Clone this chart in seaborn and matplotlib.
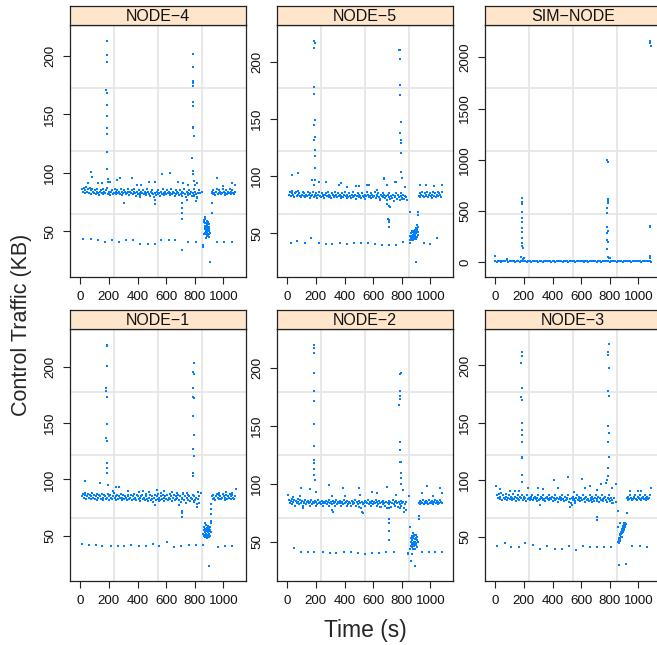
import matplotlib
matplotlib.use("Agg")
import matplotlib.pyplot as plt
import seaborn as sns
import pandas as pd

# -----------------------------------
# Data
# -----------------------------------
panels = ["NODE-4", "NODE-5", "SIM-NODE", "NODE-1", "NODE-2", "NODE-3"]
strip_labels = ["NODE\u22124", "NODE\u22125", "SIM\u2212NODE", "NODE\u22121", "NODE\u22122", "NODE\u22123"]

x_ticks = [0, 200, 400, 600, 800, 1000]
node_y_ticks = [50, 100, 150, 200]
sim_y_ticks = [0, 500, 1000, 1500, 2000]

# sampling times of the dense control-traffic band
t_band_a = list(range(12, 829, 6))     # before the outage
t_band_b = list(range(918, 1081, 6))   # after the outage
t_sim = list(range(0, 1091, 10))

# NODE-4
n4_band_a = [
    86, 84, 87, 83, 85, 88, 84, 86, 83, 87, 85, 82, 86, 84,
    83, 85, 82, 84, 86, 83, 81, 84, 85, 83, 82, 86, 84, 83,
    85, 87, 82, 84, 83, 81, 84, 85, 82, 83, 86, 84, 82, 85,
    83, 84, 82, 86, 84, 81, 83, 85, 84, 82, 83, 86, 84, 81,
    84, 83, 85, 82, 84, 86, 83, 80, 84, 82, 85, 83, 81, 84,
    83, 85, 82, 84, 81, 83, 86, 84, 82, 80, 84, 83, 85, 82,
    79, 83, 81, 84, 82, 85, 83, 80, 84, 82, 86, 83, 81, 84,
    82, 85, 83, 84, 81, 83, 86, 82, 84, 83, 80, 85, 82, 84,
    83, 81, 85, 82, 84, 80, 83, 86, 82, 79, 84, 83, 81, 85,
    82, 84, 80, 83, 86, 81, 84, 82, 79, 83, 85]
n4_band_b = [84, 82, 85, 83, 81, 84, 86, 82, 83, 85, 84, 82, 83, 86,
             84, 81, 83, 85, 82, 84, 83, 86, 82, 84, 85, 83, 82, 84]
n4_points = [
    # spikes
    (186, 213), (186, 201), (188, 201), (188, 195), (183, 171), (185, 168), (187, 158),
    (189, 149), (186, 138), (187, 133), (184, 118), (190, 103), (192, 95), (194, 92),
    (790, 202), (788, 191), (786, 179), (789, 177), (787, 174), (791, 161), (789, 157),
    (788, 139), (790, 138), (792, 132), (783, 113), (786, 102), (789, 99), (795, 93),
    # drop near 712 s
    (712, 74), (712, 70), (713, 66), (713, 61), (714, 34),
    # low line
    (18, 43.5), (73, 43.5), (124, 42.3), (171, 40.6), (223, 42.3), (272, 40.6), (320, 42.3),
    (367, 42.3), (418, 39.5), (470, 39.5), (519, 39.5), (567, 42.3), (618, 42.3), (665, 42.3),
    (755, 40.6), (807, 40.6), (858, 38), (955, 40.6), (1006, 40.6), (1059, 40.6),
    # outage cluster
    (862, 60), (866, 58), (868, 62), (870, 55), (872, 53), (874, 57), (876, 50), (878, 54),
    (880, 48), (882, 56), (884, 52), (886, 49), (888, 55), (890, 51), (892, 53), (894, 47),
    (896, 54), (898, 50), (900, 52), (902, 56), (904, 49), (868, 52), (872, 49), (876, 55),
    (880, 51), (884, 57), (888, 46), (892, 50), (896, 54), (900, 48), (874, 61), (882, 59),
    (890, 58), (898, 45), (866, 48), (880, 44), (894, 51), (860, 37), (908, 24), (917, 66),
    (917, 74), (920, 83),
    # scatter around the band
    (77, 101), (83, 96.5), (55, 91.6), (124, 91), (155, 91.6), (207, 92.4), (254, 94),
    (277, 95.5), (360, 95.5), (395, 89.6), (423, 89.6), (478, 92.4), (525, 92.4), (572, 98.7),
    (630, 99.6), (682, 92.4), (720, 91.6), (753, 89.6), (802, 89.6), (813, 91), (955, 95.5),
    (995, 89), (1059, 91), (1078, 89.6),
    (308, 74.2), (520, 73.4), (525, 77), (418, 79.5), (807, 75.6), (819, 78.5), (795, 80),
    (748, 77), (837, 83), (853, 83.5)]

# NODE-5
n5_band_a = [
    84, 86, 83, 85, 87, 84, 82, 85, 86, 83, 84, 87, 85, 83,
    82, 84, 86, 83, 85, 82, 84, 83, 86, 84, 81, 85, 83, 84,
    86, 82, 84, 83, 85, 81, 84, 86, 83, 82, 85, 84, 83, 81,
    84, 85, 83, 86, 82, 84, 83, 81, 85, 84, 82, 83, 86, 84,
    82, 85, 83, 84, 81, 83, 85, 82, 84, 86, 83, 81, 84, 82,
    85, 83, 81, 84, 82, 86, 83, 84, 80, 83, 85, 82, 84, 83,
    81, 85, 83, 82, 84, 80, 83, 86, 84, 82, 83, 81, 85, 84,
    82, 83, 86, 81, 84, 83, 85, 82, 80, 84, 83, 85, 82, 84,
    81, 83, 79, 84, 82, 85, 80, 83, 81, 84, 78, 83, 82, 85,
    80, 84, 82, 79, 83, 85, 81, 84, 80, 83, 82]
n5_band_b = [83, 85, 82, 84, 86, 83, 82, 85, 84, 83, 86, 82, 84, 85,
             83, 81, 84, 86, 83, 85, 82, 84, 86, 83, 85, 84, 82, 86]
n5_points = [
    (189, 218), (191, 216), (190, 212), (188, 178), (189, 172), (191, 149), (190, 145),
    (192, 134), (190, 132), (191, 123), (193, 118), (194, 107), (196, 97),
    (784, 210), (788, 210), (786, 202), (788, 180), (790, 171), (792, 147), (790, 138),
    (793, 132), (794, 129), (796, 120), (797, 104), (799, 98),
    (709, 62), (710, 60), (711, 56), (707, 63), (714, 74),
    (23, 41.8), (70, 43.5), (121, 41.8), (167, 46.2), (221, 41.8), (267, 41.2), (314, 41.2),
    (365, 41.8), (414, 41.2), (465, 41.8), (512, 41.8), (563, 41.8), (616, 41.2), (663, 39.8),
    (709, 39.8), (763, 39.8), (809, 42.7), (860, 41.8), (953, 41.8), (1000, 40.6), (1046, 46.2),
    (858, 48), (860, 44), (862, 46), (866, 50), (868, 45), (870, 48), (872, 52), (874, 46),
    (876, 49), (878, 44), (880, 51), (882, 47), (884, 45), (886, 50), (888, 48), (890, 53),
    (892, 46), (894, 49), (896, 51), (898, 47), (900, 55), (902, 50), (904, 57), (906, 52),
    (908, 54), (910, 49), (912, 56), (870, 44), (884, 52), (896, 45), (906, 47), (912, 51),
    (858, 69), (915, 69), (915, 66), (900, 25),
    (35, 101), (77, 102.4), (174, 96.6), (186, 92.2), (221, 95), (267, 95), (360, 92.2),
    (372, 94.3), (419, 90.8), (477, 91.4), (500, 91.4), (558, 92.2), (570, 92.2), (628, 87.9),
    (674, 98.2), (679, 97.5), (698, 92.2), (756, 95), (761, 95), (826, 90.8), (926, 92.2),
    (966, 92.2), (1024, 91.4), (1082, 92.2),
    (651, 79), (698, 76), (716, 73.5), (786, 79), (802, 80), (837, 79)]

# SIM-NODE
sim_band = [
    12, 8, 15, 10, 6, 14, 9, 11, 18, 7, 13, 10, 9, 16, 8, 12, 11, 7, 14, 10,
    9, 13, 8, 15, 11, 6, 12, 10, 14, 9, 8, 13, 11, 7, 15, 10, 12, 9, 14, 8,
    11, 13, 7, 10, 16, 9, 12, 8, 14, 11, 10, 7, 13, 9, 15, 12, 8, 11, 10, 14,
    9, 12, 7, 13, 10, 8, 15, 11, 9, 12, 14, 8, 10, 13, 7, 11, 16, 9, 12, 10,
    8, 14, 11, 9, 13, 7, 12, 10, 15, 8, 11, 9, 14, 12, 10, 8, 13, 11, 9, 15,
    10, 12, 8, 14, 11, 9, 13, 10, 12, 8]
sim_points = [
    (187, 624), (188, 591), (186, 569), (190, 494), (189, 429), (187, 396), (188, 332),
    (190, 299), (189, 234), (186, 191), (188, 159), (191, 137), (180, 55), (195, 29), (200, 40),
    (783, 998), (785, 981), (790, 615), (788, 603), (786, 576), (784, 527), (783, 478),
    (782, 347), (787, 308), (783, 283), (781, 218), (785, 201), (784, 127), (790, 49), (795, 40),
    (1083, 2162), (1083, 2136), (1085, 2113), (1081, 354), (1082, 343), (1084, 39), (1080, 60),
    (0, 60), (80, 30), (800, 45)]

# NODE-1
n1_band_a = [
    85, 87, 84, 88, 86, 83, 85, 87, 84, 86, 83, 85, 88, 84,
    86, 83, 85, 87, 82, 84, 86, 85, 83, 87, 84, 82, 86, 85,
    83, 84, 87, 85, 82, 86, 84, 83, 85, 88, 84, 82, 85, 86,
    83, 85, 84, 87, 82, 84, 86, 83, 85, 84, 82, 86, 85, 83,
    84, 86, 82, 85, 87, 83, 84, 82, 86, 85, 83, 84, 81, 85,
    86, 83, 84, 82, 85, 87, 83, 81, 84, 86, 82, 85, 83, 80,
    84, 86, 82, 85, 83, 87, 84, 82, 85, 83, 86, 81, 84, 85,
    83, 86, 82, 84, 87, 83, 85, 81, 84, 86, 82, 85, 83, 84,
    86, 82, 85, 80, 84, 83, 87, 82, 85, 79, 84, 86, 82, 85,
    81, 84, 83, 86, 80, 85, 82, 84, 78, 83, 85]
n1_band_b = [85, 83, 86, 84, 82, 85, 87, 84, 83, 86, 85, 83, 84, 87,
             85, 82, 84, 86, 83, 85, 84, 87, 83, 85, 86, 84, 83, 85]
n1_points = [
    (185, 219), (186, 218), (190, 201), (181, 181), (183, 178), (186, 173), (184, 149),
    (183, 137), (185, 134), (186, 115), (187, 110), (189, 106), (192, 95),
    (795, 203.5), (790, 195), (792, 193.5), (789, 181), (791, 173), (796, 172), (790, 156),
    (795, 139.5), (789, 127), (796, 121), (787, 106), (788, 103),
    (712, 70), (713, 67), (712, 72),
    (14, 43), (61, 42.1), (113, 42.1), (155, 40.6), (212, 40.6), (261, 40.6), (308, 40.6),
    (355, 42.1), (409, 40.6), (461, 40.6), (508, 43), (553, 40.6), (607, 45), (658, 39.7),
    (706, 40.6), (757, 42.1), (807, 42.1), (960, 39.7), (1011, 40.6), (1059, 40.6),
    (860, 52), (862, 55), (864, 50), (866, 58), (868, 53), (870, 49), (872, 56), (874, 51),
    (876, 54), (878, 60), (880, 52), (882, 48), (884, 55), (886, 57), (888, 50), (890, 53),
    (892, 56), (894, 51), (896, 54), (898, 49), (900, 57), (902, 52), (904, 55), (906, 50),
    (908, 58), (910, 53), (912, 61), (868, 61), (876, 49), (884, 51), (892, 59), (900, 50),
    (860, 42), (900, 23.5), (915, 78), (915, 73.7), (915, 69.3), (914, 63),
    (30, 98.8), (136, 97.3), (229, 90.2), (252, 93.7), (269, 93.1), (335, 89.9), (410, 89.3),
    (441, 90.2), (481, 88.6), (535, 91), (566, 88), (582, 90.2), (641, 89.3), (676, 88),
    (716, 88), (748, 88), (825, 89.3), (841, 88), (970, 88), (1017, 88.6), (1059, 88),
    (1089, 91.6),
    (524, 77.5), (547, 80.5), (688, 77.5), (817, 76), (829, 79), (793, 80.5)]

# NODE-2
n2_band_a = [
    86, 83, 85, 87, 82, 84, 86, 81, 85, 83, 87, 84, 82, 86,
    83, 85, 81, 84, 83, 86, 82, 84, 85, 83, 81, 84, 86, 82,
    84, 83, 85, 81, 84, 82, 86, 83, 84, 82, 85, 83, 81, 84,
    83, 85, 82, 84, 86, 81, 83, 84, 82, 85, 83, 81, 84, 86,
    82, 84, 83, 85, 81, 83, 84, 82, 86, 83, 84, 81, 85, 82,
    84, 83, 81, 85, 82, 84, 83, 86, 81, 84, 82, 80, 85, 83,
    79, 84, 82, 83, 85, 81, 84, 83, 86, 82, 84, 81, 83, 85,
    82, 84, 83, 86, 81, 84, 82, 85, 83, 80, 84, 82, 85, 83,
    81, 84, 79, 83, 85, 82, 84, 80, 83, 86, 82, 84, 81, 85,
    83, 80, 84, 82, 85, 81, 83, 84, 79, 82, 84]
n2_band_b = [83, 85, 82, 84, 83, 86, 82, 84, 83, 85, 84, 82, 86, 83,
             84, 85, 83, 82, 84, 86, 83, 85, 82, 84, 83, 86, 84, 83]
n2_points = [
    (185, 219.6), (187, 216.7), (186, 213), (189, 195.7), (188, 180), (186, 171.6),
    (187, 151.5), (185, 132.5), (188, 120), (187, 118), (189, 113), (190, 107.5), (191, 103.2),
    (793, 195.7), (791, 194.5), (789, 180), (786, 175.6), (790, 172.7), (784, 168),
    (786, 136), (787, 129), (791, 119), (797, 119), (793, 109), (795, 104.6), (797, 99.7),
    (712, 69.3), (712, 59.5), (713, 51.5), (710, 66),
    (47, 44.3), (94, 40.8), (148, 40.8), (190, 40.8), (248, 40.8), (295, 40.5), (341, 40.5),
    (393, 40.8), (444, 40.8), (491, 40.5), (540, 39.7), (591, 40.5), (643, 40.5), (692, 40.8),
    (743, 40.8), (841, 40.5), (942, 40.8), (988, 40.8), (1035, 40.8), (1082, 40.8),
    (862, 50), (864, 46), (866, 53), (868, 48), (870, 55), (872, 45), (874, 51), (876, 57),
    (878, 49), (880, 53), (882, 46), (884, 50), (886, 55), (888, 48), (890, 52), (892, 44),
    (894, 50), (896, 56), (898, 47), (900, 53), (902, 49), (904, 51), (906, 45), (908, 54),
    (910, 50), (872, 52), (880, 47), (888, 56), (896, 49), (904, 54), (876, 44), (892, 52),
    (858, 63), (870, 39), (865, 33), (893, 29), (919, 72), (919, 69.5), (845, 39), (855, 44),
    (7, 90.3), (42, 88.8), (89, 89.4), (94, 96), (159, 95.2), (201, 93.2), (288, 98.9),
    (311, 89.4), (388, 96), (404, 89.4), (498, 96), (505, 90.3), (591, 93.2), (626, 91.7),
    (696, 97.5), (762, 90.3), (808, 94.6), (848, 89.4), (942, 92.3), (977, 98), (1019, 89.4),
    (1070, 96), (1082, 91.7),
    (113, 78.8), (311, 77.3), (322, 75.9), (521, 75.9), (528, 74.5), (650, 80.2), (708, 78.8),
    (790, 78.8), (813, 75.9), (832, 77.3)]

# NODE-3
n3_band_a = [
    86, 84, 87, 83, 85, 88, 82, 86, 84, 83, 87, 85, 82, 84,
    86, 83, 85, 82, 84, 87, 83, 85, 81, 84, 86, 83, 82, 85,
    84, 86, 82, 83, 85, 84, 81, 86, 83, 84, 82, 85, 83, 86,
    82, 84, 85, 83, 81, 84, 86, 82, 83, 85, 84, 82, 86, 83,
    81, 84, 85, 83, 86, 82, 84, 83, 85, 81, 84, 82, 86, 83,
    84, 80, 83, 85, 82, 84, 86, 83, 81, 85, 82, 84, 83, 86,
    80, 83, 79, 84, 82, 85, 83, 81, 84, 86, 82, 83, 85, 81,
    84, 82, 86, 83, 80, 84, 85, 82, 83, 81, 86, 84, 82, 85,
    83, 81, 84, 86, 82, 83, 85, 80, 84, 82, 86, 83, 81, 84,
    85, 82, 80, 84, 83, 86, 81, 84, 82, 79, 84]
n3_band_b = [84, 82, 85, 83, 86, 84, 82, 83, 85, 84, 86, 83, 82, 85,
             84, 83, 86, 82, 84, 85, 83, 86, 84, 82, 85, 83, 84, 86]
n3_points = [
    (185, 211.7), (188, 208.5), (183, 202.6), (186, 180), (183, 172.8), (184, 170),
    (187, 150), (186, 143), (187, 139), (186, 133), (188, 120), (187, 118.8), (189, 104),
    (190, 97.4),
    (792, 218.8), (789, 212), (788, 209), (793, 198), (788, 178), (792, 173.4), (789, 147),
    (792, 141), (789, 133), (792, 120), (785, 110.5), (786, 103), (784, 100),
    (711, 67.5), (711, 64.7),
    (12, 42.1), (66, 44), (113, 41.2), (164, 41.2), (211, 44), (260, 42.7), (312, 39.5),
    (359, 41.8), (418, 39.5), (464, 39.5), (516, 41.8), (563, 38.6), (612, 41.8), (664, 41.2),
    (711, 41.2), (763, 41.2), (812, 41.2), (958, 41.8), (1009, 41.8), (1058, 41.2),
    (860, 45), (862, 47), (864, 44), (866, 49), (868, 46), (870, 51), (872, 48), (874, 52),
    (876, 50), (878, 54), (880, 52), (882, 55), (884, 53), (886, 57), (888, 55), (890, 58),
    (892, 56), (894, 59), (896, 57), (898, 60), (900, 58), (902, 61), (904, 59), (906, 62),
    (908, 60), (866, 44), (874, 47), (882, 50), (890, 54), (898, 56), (906, 58), (910, 61),
    (858, 58), (872, 62), (900, 62), (863, 24.6), (910, 25.8), (918, 70.5), (855, 72),
    (7, 94.7), (30, 91.8), (101, 90.3), (136, 90.3), (164, 90.3), (230, 92.9), (301, 92.9),
    (336, 91.8), (411, 99.6), (437, 92.9), (507, 102.2), (547, 88.9), (606, 100.2), (630, 92.9),
    (665, 94.7), (712, 90.8), (742, 96.3), (775, 96.8), (841, 96.3), (817, 92.9), (939, 90.3),
    (998, 90.3), (1021, 90.3), (1087, 92.9),
    (312, 78), (524, 76.3), (536, 78), (559, 79.5), (676, 80), (712, 80.9), (817, 79.5),
    (841, 80)]

# panel y ranges (free scales)
y_limits = {
    "NODE-4": (11, 226.5), "NODE-5": (12, 232), "SIM-NODE": (-143, 2315),
    "NODE-1": (10, 233.4), "NODE-2": (16, 233.4), "NODE-3": (11, 232),
}
x_limits = (-72, 1158)


def node_frame(name, band_a, band_b, points):
    t = t_band_a + t_band_b + [p[0] for p in points]
    v = band_a + band_b + [p[1] for p in points]
    return pd.DataFrame({"panel": name, "time": t, "traffic": v})


df = pd.concat([
    node_frame("NODE-4", n4_band_a, n4_band_b, n4_points),
    node_frame("NODE-5", n5_band_a, n5_band_b, n5_points),
    pd.DataFrame({"panel": "SIM-NODE",
                  "time": t_sim + [p[0] for p in sim_points],
                  "traffic": sim_band + [p[1] for p in sim_points]}),
    node_frame("NODE-1", n1_band_a, n1_band_b, n1_points),
    node_frame("NODE-2", n2_band_a, n2_band_b, n2_points),
    node_frame("NODE-3", n3_band_a, n3_band_b, n3_points),
], ignore_index=True)

# -----------------------------------
# Figure layout (lattice-like, pixel based)
# -----------------------------------
sns.set_style("white")
plt.rcParams["font.family"] = ["Liberation Sans", "DejaVu Sans"]

W, H = 657, 645
col_x = [70, 277, 485]
row_top = [25, 329]
panel_w, panel_h, strip_h = 176, 252, 19


def frac(x, y, w, h):
    return [x / W, 1 - (y + h) / H, w / W, h / H]


fig = plt.figure(figsize=(W / 100, H / 100), dpi=100)

for i, name in enumerate(panels):
    row, col = divmod(i, 3)
    ax = fig.add_axes(frac(col_x[col], row_top[row], panel_w, panel_h))
    sub = df[df["panel"] == name]

    ax.set_xlim(*x_limits)
    ax.set_ylim(*y_limits[name])
    # grid at quarter positions of the panel
    for f in (0.25, 0.5, 0.75):
        ax.plot([f, f], [0, 1], transform=ax.transAxes, color="#e6e6e6", lw=1.3, zorder=0)
        ax.plot([0, 1], [f, f], transform=ax.transAxes, color="#e6e6e6", lw=1.3, zorder=0)

    sns.scatterplot(data=sub, x="time", y="traffic", ax=ax, color="#0080ff",
                    marker="s", s=4.6, linewidth=0, legend=False, zorder=3)

    ax.set_xticks(x_ticks)
    ax.set_yticks(sim_y_ticks if name == "SIM-NODE" else node_y_ticks)
    ax.set_xlabel("")
    ax.set_ylabel("")
    ax.tick_params(direction="out", length=5, width=0.8, color="#222222",
                   labelsize=9.6, labelcolor="#111111", pad=5, bottom=True, left=True)
    for lab in ax.get_yticklabels():
        lab.set_rotation(90)
        lab.set_va("center")
    for sp in ax.spines.values():
        sp.set_color("#222222")
        sp.set_linewidth(0.9)

    sax = fig.add_axes(frac(col_x[col], row_top[row] - strip_h, panel_w, strip_h))
    sax.set_facecolor("#ffe5cc")
    sax.set_xticks([])
    sax.set_yticks([])
    for sp in sax.spines.values():
        sp.set_color("#222222")
        sp.set_linewidth(0.9)
    sax.text(0.5, 0.45, strip_labels[i], ha="center", va="center",
             fontsize=11.5, color="#111111", transform=sax.transAxes)

fig.text(365.5 / W, 1 - 630 / H, "Time (s)", ha="center", va="center", fontsize=16.5)
fig.text(22 / W, 1 - 325 / H, "Control Traffic (KB)", ha="center", va="center",
         rotation=90, fontsize=15.5)

fig.savefig("out.png", dpi=100)
